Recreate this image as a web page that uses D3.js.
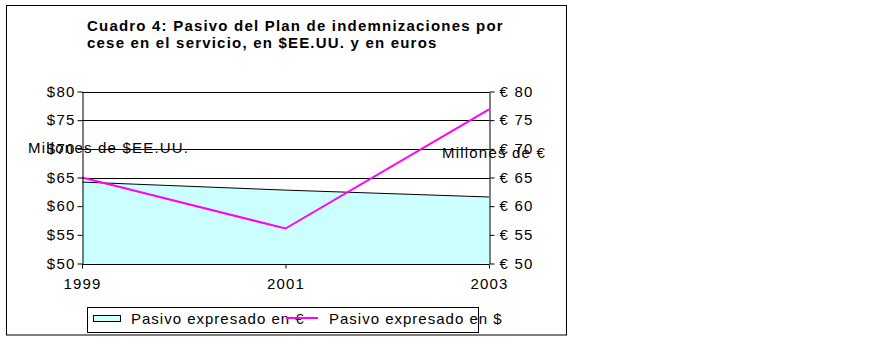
<!DOCTYPE html>
<html>
<head>
<meta charset="utf-8">
<script src="https://cdn.jsdelivr.net/npm/d3@7"></script>
<style>
  body { margin: 0; background: #fff; }
  text { font-family: "Liberation Sans", Arial, sans-serif; fill: #000; }
  .tick text { font-size: 15px; letter-spacing: 1.2px; }
</style>
</head>
<body>
<div id="chart"></div>
<script>
// data
const years = ["1999", "2001", "2003"];
const eurValues = [64.2, 62.8, 61.6];   // Pasivo expresado en € (area, right axis)
const usdValues = [65.0, 56.1, 76.9];   // Pasivo expresado en $ (line, left axis)
const yTicks = [50, 55, 60, 65, 70, 75, 80];
const titleLines = ["Cuadro 4: Pasivo del Plan de indemnizaciones por",
                    "cese en el servicio, en $EE.UU. y en euros"];

const W = 895, H = 352;
const plot = { left: 82, right: 489, top: 91.5, bottom: 263.5 };

const svg = d3.select("#chart").append("svg")
  .attr("width", W).attr("height", H).style("display", "block");

// outer frame
svg.append("rect").attr("x", 6.5).attr("y", 5.5).attr("width", 560).attr("height", 329.5)
  .attr("fill", "#fff").attr("stroke", "#000").attr("stroke-width", 1);

// title
svg.append("text").attr("x", 87).attr("y", 31)
  .style("font-size", "15px").style("font-weight", "bold").style("letter-spacing", "1.2px")
  .selectAll("tspan").data(titleLines).join("tspan")
  .attr("x", 87).attr("dy", (d, i) => i ? 17 : 0).text(d => d);

const x = d3.scalePoint().domain(years).range([plot.left, plot.right]);
const yL = d3.scaleLinear().domain([50, 80]).range([plot.bottom, plot.top]);
const yR = d3.scaleLinear().domain([50, 80]).range([plot.bottom, plot.top]);

// gridlines
svg.append("g").selectAll("line").data(yTicks).join("line")
  .attr("x1", plot.left).attr("x2", plot.right)
  .attr("y1", d => Math.round(yL(d)) + 0.5).attr("y2", d => Math.round(yL(d)) + 0.5)
  .attr("stroke", "#000").attr("stroke-width", 1);

// area (euros, right axis)
const eurRows = years.map((y, i) => ({ x: y, v: eurValues[i] }));
svg.append("path").datum(eurRows)
  .attr("fill", "#ccffff")
  .attr("d", d3.area().x(d => x(d.x)).y0(plot.bottom).y1(d => yR(d.v)));
svg.append("path").datum(eurRows)
  .attr("fill", "none").attr("stroke", "#000").attr("stroke-width", 1)
  .attr("d", d3.line().x(d => x(d.x)).y(d => yR(d.v)));

// bottom axis line
svg.append("line").attr("x1", plot.left).attr("x2", plot.right)
  .attr("y1", Math.round(plot.bottom) + 0.5).attr("y2", Math.round(plot.bottom) + 0.5)
  .attr("stroke", "#000");

// line (dollars, left axis)
const usdRows = years.map((y, i) => ({ x: y, v: usdValues[i] }));
svg.append("path").datum(usdRows)
  .attr("fill", "none").attr("stroke", "#ff00ff").attr("stroke-width", 2)
  .attr("d", d3.line().x(d => x(d.x)).y(d => yL(d.v)));

// axes
const fmtL = d => "$" + d;
const fmtR = d => "€ " + d;
const styleAxis = s => {
  s.select(".domain").attr("stroke", "#000");
  s.selectAll(".tick line").attr("stroke", "#000");
};
svg.append("g").attr("transform", `translate(${plot.left + 0.5},0)`)
  .call(d3.axisLeft(yL).tickValues(yTicks).tickFormat(fmtL).tickSize(5).tickSizeOuter(0).tickPadding(2))
  .call(styleAxis)
  .selectAll("text").style("font-family", "Liberation Sans, Arial, sans-serif").attr("fill", "#000");
svg.append("g").attr("transform", `translate(${plot.right + 0.5},0)`)
  .call(d3.axisRight(yR).tickValues(yTicks).tickFormat(fmtR).tickSize(5).tickSizeOuter(0).tickPadding(5))
  .call(styleAxis)
  .selectAll("text").style("font-family", "Liberation Sans, Arial, sans-serif").attr("fill", "#000");
svg.append("g").attr("transform", `translate(0,${Math.round(plot.bottom) + 0.5})`)
  .call(d3.axisBottom(x).tickSize(4).tickSizeOuter(0).tickPadding(10))
  .call(s => s.select(".domain").remove())
  .call(styleAxis)
  .selectAll("text").style("font-family", "Liberation Sans, Arial, sans-serif").attr("fill", "#000");

// axis titles (overlapping the ticks, as in the original)
svg.append("text").attr("x", 28).attr("y", 153)
  .style("font-size", "15px").style("letter-spacing", "1.2px").text("Millones de $EE.UU.");
svg.append("text").attr("x", 442).attr("y", 158)
  .style("font-size", "15px").style("letter-spacing", "1.2px").text("Millones de €");

// legend
const lg = svg.append("g");
lg.append("rect").attr("x", 87.5).attr("y", 307.5).attr("width", 391).attr("height", 25)
  .attr("fill", "#fff").attr("stroke", "#000");
lg.append("rect").attr("x", 93.5).attr("y", 315.5).attr("width", 27).attr("height", 6)
  .attr("fill", "#ccffff").attr("stroke", "#000");
lg.append("text").attr("x", 131).attr("y", 324)
  .style("font-size", "15px").style("letter-spacing", "1px").text("Pasivo expresado en €");
lg.append("line").attr("x1", 286).attr("x2", 318).attr("y1", 318).attr("y2", 318)
  .attr("stroke", "#ff00ff").attr("stroke-width", 2);
lg.append("text").attr("x", 329).attr("y", 324)
  .style("font-size", "15px").style("letter-spacing", "1px").text("Pasivo expresado en $");
</script>
</body>
</html>
